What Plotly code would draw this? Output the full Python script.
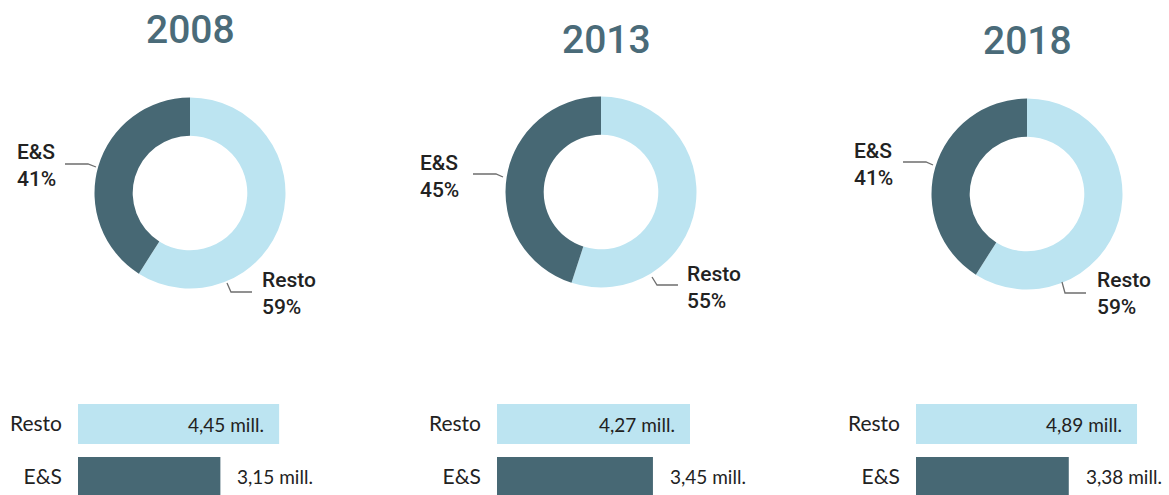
import plotly.graph_objects as go

W, H = 1169, 495

# ---- data ----
years = ["2008", "2013", "2018"]
categories = ["E&S", "Resto"]          # bar order bottom -> top
share_es = [41, 45, 41]
share_resto = [59, 55, 59]
mill_es = [3.15, 3.45, 3.38]
mill_resto = [4.45, 4.27, 4.89]

# ---- style ----
DARK = "#476874"
LIGHT = "#bce4f1"
TITLE_C = "#4a6b79"
TXT = "#222222"
LINE_C = "#6e6e6e"
LBL_FONT = "Roboto"
BAR_FONT = "Lato"


def fx(p):
    return p / W


def fy(p):
    return 1 - p / H


# layout positions (pixels)
pie_cx = [190, 601, 1027]
pie_cy = [193, 192, 194]
pie_r = 95.5
title_pos = [(190, 30), (606, 40), (1027, 41)]
es_lbl = [(15, 166), (418, 176), (852, 165)]
resto_lbl = [(260, 293), (685, 287), (1095, 293)]
es_line = [[(65, 164), (88, 164), (96, 167)],
           [(473, 174), (496, 174), (503, 177)],
           [(903, 162), (926, 162), (933, 165)]]
resto_line = [[(227, 283), (231, 292), (252, 292)],
              [(652, 277), (657, 285), (678, 285)],
              [(1062, 282), (1065, 293), (1086, 293)]]
bar_x0 = [78, 497, 916]
PX_PER_UNIT = 45.2
bar_span = 240

fig = go.Figure()
annotations = []
shapes = []
layout_axes = {}


def fmt(v):
    return f"{v:.2f}".replace(".", ",") + " mill."


for i in range(3):
    cx, cy = pie_cx[i], pie_cy[i]
    fig.add_trace(go.Pie(
        labels=["Resto", "E&S"],
        values=[share_resto[i], share_es[i]],
        hole=0.6, sort=False, direction="clockwise", rotation=0,
        marker=dict(colors=[LIGHT, DARK], line=dict(width=0)),
        textinfo="none", hoverinfo="label+percent", showlegend=False,
        domain=dict(x=[fx(cx - pie_r), fx(cx + pie_r)],
                    y=[fy(cy + pie_r), fy(cy - pie_r)]),
    ))

    n = "" if i == 0 else str(i + 1)
    fig.add_trace(go.Bar(
        y=categories, x=[mill_es[i], mill_resto[i]], orientation="h",
        marker=dict(color=[DARK, LIGHT], line=dict(width=0)),
        width=0.755, xaxis="x" + n, yaxis="y" + n, showlegend=False,
        hoverinfo="x+y",
    ))
    layout_axes["xaxis" + n] = dict(
        domain=[fx(bar_x0[i]), fx(bar_x0[i] + bar_span)],
        range=[0, bar_span / PX_PER_UNIT], anchor="y" + n,
        visible=False, fixedrange=True,
    )
    layout_axes["yaxis" + n] = dict(
        domain=[0, fy(391)], type="category",
        categoryorder="array", categoryarray=categories,
        range=[-0.34, 1.623], anchor="x" + n,
        showgrid=False, zeroline=False, showline=False, ticks="",
        ticklabelstandoff=15,
        tickfont=dict(family=BAR_FONT, size=21, color=TXT),
        fixedrange=True,
    )

    annotations.append(dict(
        x=mill_resto[i], y=categories.index("Resto"), xref="x" + n, yref="y" + n,
        text=fmt(mill_resto[i]), showarrow=False, xanchor="right", xshift=-13,
        font=dict(family=BAR_FONT, size=19, color=TXT)))
    annotations.append(dict(
        x=mill_es[i], y=categories.index("E&S"), xref="x" + n, yref="y" + n,
        text=fmt(mill_es[i]), showarrow=False, xanchor="left", xshift=15,
        font=dict(family=BAR_FONT, size=19, color=TXT)))

    tx, ty = title_pos[i]
    annotations.append(dict(
        x=fx(tx), y=fy(ty), xref="paper", yref="paper", text=years[i],
        showarrow=False, xanchor="center", yanchor="middle",
        font=dict(family="Roboto", size=39, color=TITLE_C, weight=500)))

    ex, ey = es_lbl[i]
    annotations.append(dict(
        x=fx(ex), y=fy(ey), xref="paper", yref="paper",
        text=f"E&S<br>{share_es[i]}%", showarrow=False, align="left",
        xanchor="left", yanchor="middle",
        font=dict(family=LBL_FONT, size=21, color=TXT, weight=500)))
    rx, ry = resto_lbl[i]
    annotations.append(dict(
        x=fx(rx), y=fy(ry), xref="paper", yref="paper",
        text=f"Resto<br>{share_resto[i]}%", showarrow=False, align="left",
        xanchor="left", yanchor="middle",
        font=dict(family=LBL_FONT, size=21, color=TXT, weight=500)))

    for pts in (es_line[i], resto_line[i]):
        path = "M " + " L ".join(f"{fx(a):.5f},{fy(b):.5f}" for a, b in pts)
        shapes.append(dict(type="path", xref="paper", yref="paper", path=path,
                           line=dict(color=LINE_C, width=1.3)))

fig.update_layout(
    width=W, height=H,
    margin=dict(l=0, r=0, t=0, b=0),
    paper_bgcolor="white", plot_bgcolor="white",
    annotations=annotations, shapes=shapes,
    showlegend=False,
    **layout_axes,
)

fig.write_html("out.html", config={"displayModeBar": False},
               post_script="document.body.style.margin='0';")
